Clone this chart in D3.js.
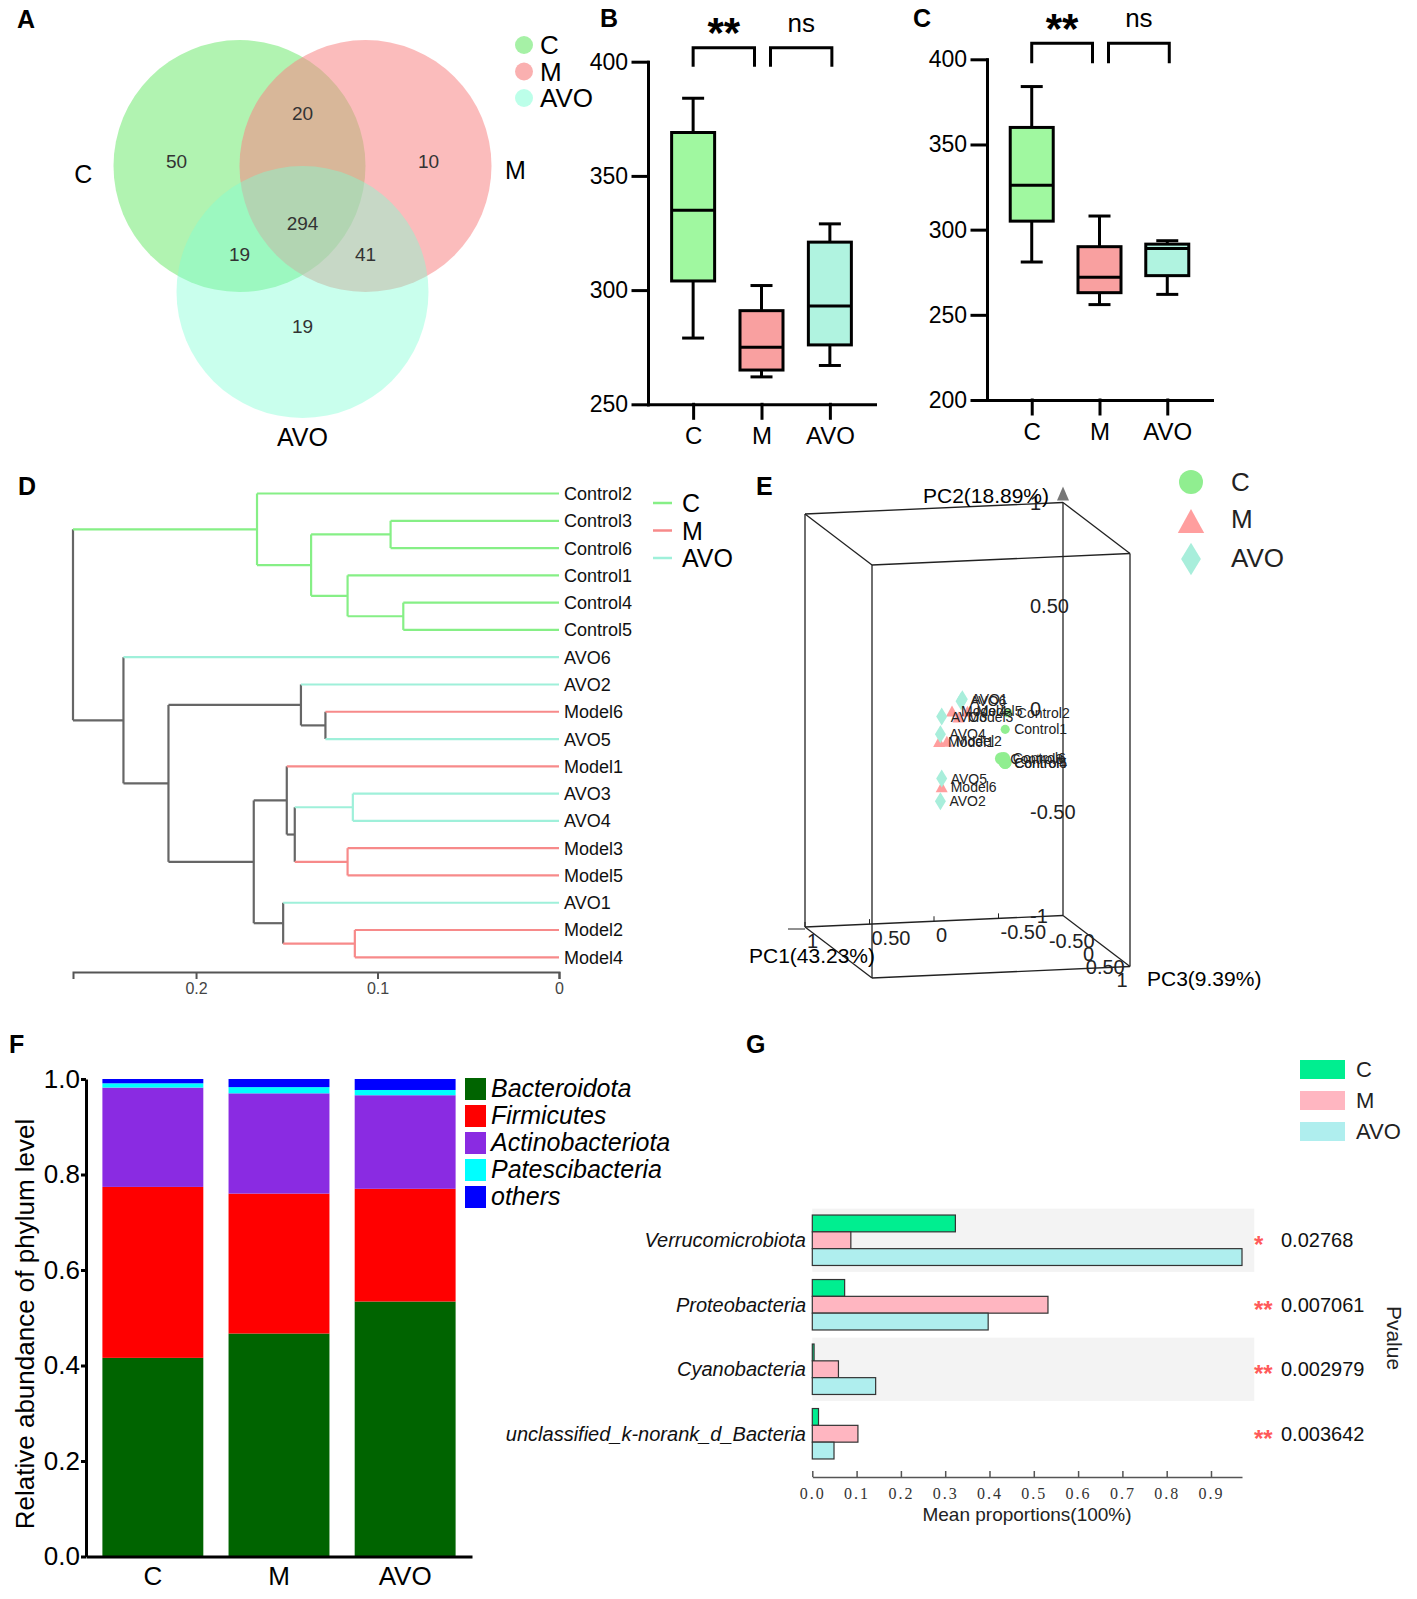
<!DOCTYPE html>
<html lang="en">
<head>
  <meta charset="UTF-8">
  <title>Microbiota figure</title>
  <style>
    body { margin: 0; background: #fff; }
    text { font-family: "Liberation Sans", Arial, sans-serif; }
  </style>
</head>
<body>
  <script src="https://d3js.org/d3.v7.min.js"></script>
  <script>
    // ---------- data ----------
    const groups = ["C", "M", "AVO"];

    // A: Venn region counts
    const vennRegions = [["C"], ["M"], ["AVO"], ["C", "M"], ["C", "AVO"], ["M", "AVO"], ["C", "M", "AVO"]];
    const vennCounts = [50, 10, 19, 20, 19, 41, 294];

    // B / C: [min, q1, median, q3, max] per group
    const boxB = [[279, 304, 335, 369, 384], [262, 265, 275, 291, 302], [267, 276, 293, 321, 329]];
    const boxC = [[281, 305, 326, 360, 384], [256, 263, 272, 290, 308], [262, 273, 289, 291.5, 293.5]];
    const ticksB = [250, 300, 350, 400];
    const ticksC = [200, 250, 300, 350, 400];
    const sigPairs = [[0, 1], [1, 2]];
    const sigLabels = ["**", "ns"];

    // D: clustering tree
    const leaves = ["Control2", "Control3", "Control6", "Control1", "Control4", "Control5", "AVO6", "AVO2", "Model6",
      "AVO5", "Model1", "AVO3", "AVO4", "Model3", "Model5", "AVO1", "Model2", "Model4"];
    // [left, right, height]; a number refers to an earlier merge
    const merges = [
      ["Control3", "Control6", 0.0928],
      ["Control4", "Control5", 0.0858],
      ["Control1", 1, 0.1165],
      [0, 2, 0.1366],
      ["Control2", 3, 0.1664],
      ["Model6", "AVO5", 0.1287],
      ["AVO2", 5, 0.1422],
      ["AVO3", "AVO4", 0.1136],
      ["Model3", "Model5", 0.1165],
      [7, 8, 0.1456],
      ["Model1", 9, 0.150],
      ["Model2", "Model4", 0.1125],
      ["AVO1", 11, 0.152],
      [10, 12, 0.1682],
      [6, 13, 0.2152],
      ["AVO6", 14, 0.240],
      [4, 15, 0.2678]
    ];
    const distTicks = [0.2, 0.1, 0];

    // E: PCoA coordinates
    const pcNames = ["Control1", "Control2", "Control3", "Control4", "Control5", "Control6",
      "Model1", "Model2", "Model3", "Model4", "Model5", "Model6",
      "AVO1", "AVO2", "AVO3", "AVO4", "AVO5", "AVO6"];
    const pc1 = [-0.50, -0.52, -0.21, -0.24, -0.24, -0.23, 0.22, 0.16, 0.07, 0.12, 0.00, 0.20, 0.04, 0.21, 0.20, 0.21, 0.20, 0.05];
    const pc2 = [-0.06, 0.02, -0.07, -0.09, -0.09, -0.07, 0.00, 0.00, 0.115, 0.145, 0.14, -0.22, 0.20, -0.29, 0.12, 0.035, -0.18, 0.19];
    const pc3 = [-0.8, -0.8, 0.2, 0.2, 0.2, 0.2, 0, 0, 0, 0, 0, 0, 0, 0, 0, 0, 0, 0];
    const pc1Ticks = [1, 0.5, 0, -0.5];
    const pc2Ticks = [1, 0.5, 0, -0.5, -1];
    const pc3Ticks = [-0.5, 0, 0.5, 1];

    // F: phylum composition
    const phyla = ["Bacteroidota", "Firmicutes", "Actinobacteriota", "Patescibacteria", "others"];
    const bacteroidota = [0.416, 0.467, 0.534];
    const firmicutes = [0.358, 0.293, 0.236];
    const actinobacteriota = [0.208, 0.210, 0.196];
    const patescibacteria = [0.009, 0.013, 0.011];
    const others = [0.009, 0.017, 0.023];
    const ticksF = [0, 0.2, 0.4, 0.6, 0.8, 1.0];

    // G: differential phyla
    const taxaG = ["Verrucomicrobiota", "Proteobacteria", "Cyanobacteria", "unclassified_k-norank_d_Bacteria"];
    const meanC = [0.323, 0.073, 0.004, 0.014];
    const meanM = [0.087, 0.532, 0.059, 0.103];
    const meanAVO = [0.970, 0.397, 0.143, 0.049];
    const pValues = ["0.02768", "0.007061", "0.002979", "0.003642"];
    const pStars = ["*", "**", "**", "**"];
    const ticksG = [0, 0.1, 0.2, 0.3, 0.4, 0.5, 0.6, 0.7, 0.8, 0.9];

    // ---------- page ----------
    const svg = d3.select("body").append("svg").attr("width", 1417).attr("height", 1599);

    function letter(t, x, y) {
      svg.append("text").attr("x", x).attr("y", y).attr("font-size", 25).attr("font-weight", "bold").text(t);
    }
    letter("A", 17, 28); letter("B", 600, 27); letter("C", 913, 27);
    letter("D", 18, 495); letter("E", 756, 495); letter("F", 9, 1053); letter("G", 746, 1053);

    // ---------- A: Venn ----------
    const venn = svg.append("g");
    const vr = 126, vcx = 302.5, vcy = 208;
    const vu = d3.scaleLinear().domain([0, 1]).range([0, vr]);
    const vennCenter = { C: [-0.5, -0.333], M: [0.5, -0.333], AVO: [0, 0.667] };
    const vennFill = { C: "#90ee90", M: "#f78585", AVO: "#7fffd4" };
    const vennAlpha = { C: 0.7, M: 0.55, AVO: 0.42 };
    groups.forEach(g => venn.append("circle")
      .attr("cx", vcx + vu(vennCenter[g][0])).attr("cy", vcy + vu(vennCenter[g][1])).attr("r", vr)
      .attr("fill", vennFill[g]).attr("fill-opacity", vennAlpha[g]));
    // text spot of every region (units of radius)
    const regionSpot = [[-1, -0.37], [1, -0.37], [0, 0.94], [0, -0.75], [-0.5, 0.37], [0.5, 0.37], [0, 0.12]];
    vennRegions.forEach((r, i) => venn.append("text")
      .attr("x", vcx + vu(regionSpot[i][0])).attr("y", vcy + vu(regionSpot[i][1])).attr("dy", "0.35em")
      .attr("text-anchor", "middle").attr("font-size", 19).attr("fill", "#333").text(vennCounts[i]));
    const setSpot = { C: [-1.74, -0.27], M: [1.69, -0.30], AVO: [0, 1.82] };
    groups.forEach(g => venn.append("text")
      .attr("x", vcx + vu(setSpot[g][0])).attr("y", vcy + vu(setSpot[g][1])).attr("dy", "0.36em")
      .attr("text-anchor", "middle").attr("font-size", 25).text(g));
    groups.forEach((g, i) => {
      venn.append("circle").attr("cx", 524).attr("cy", 45 + i * 26.5).attr("r", 9)
        .attr("fill", vennFill[g]).attr("fill-opacity", vennAlpha[g] + 0.1);
      venn.append("text").attr("x", 540).attr("y", 45 + i * 26.5 + 9).attr("font-size", 26).text(g);
    });

    // ---------- B / C: box plots ----------
    const boxFill = { C: "#a0f8a0", M: "#f9a0a0", AVO: "#b0f3e0" };
    function boxPanel(stats, ticks, o) {
      const x = d3.scalePoint().domain(groups).range([o.x0, o.x1]).padding(0.66);
      const y = d3.scaleLinear().domain([ticks[0], ticks[ticks.length - 1]]).range([o.yBot, o.yTop]);
      const g = svg.append("g");
      const ya = g.append("g").attr("transform", `translate(${o.x0},0)`)
        .call(d3.axisLeft(y).tickValues(ticks).tickSize(15).tickPadding(5).tickSizeOuter(0));
      const xa = g.append("g").attr("transform", `translate(0,${o.yBot})`)
        .call(d3.axisBottom(x).tickSize(14).tickPadding(9).tickSizeOuter(0));
      [ya, xa].forEach(a => {
        a.attr("font-size", 23);
        a.selectAll("path,line").attr("stroke", "#000").attr("stroke-width", 3).attr("stroke-linecap", "square");
        a.selectAll("text").attr("fill", "#000");
      });
      xa.attr("font-size", 24);
      const half = 21.5, cap = 11;
      stats.forEach((s, i) => {
        const cx = x(groups[i]);
        const line = (x1, y1, x2, y2) => g.append("line").attr("x1", x1).attr("y1", y1).attr("x2", x2).attr("y2", y2)
          .attr("stroke", "#000").attr("stroke-width", 3);
        line(cx, y(s[4]), cx, y(s[3]));
        line(cx, y(s[1]), cx, y(s[0]));
        line(cx - cap, y(s[4]), cx + cap, y(s[4]));
        line(cx - cap, y(s[0]), cx + cap, y(s[0]));
        g.append("rect").attr("x", cx - half).attr("y", y(s[3])).attr("width", half * 2)
          .attr("height", y(s[1]) - y(s[3])).attr("fill", boxFill[groups[i]])
          .attr("stroke", "#000").attr("stroke-width", 3);
        line(cx - half, y(s[2]), cx + half, y(s[2]));
      });
      sigPairs.forEach(([a, b], k) => {
        const x1 = x(groups[a]) + (k ? 9 : 0), x2 = x(groups[b]) + (k ? 2 : -7);
        g.append("path").attr("d", `M${x1},${o.brLeg}V${o.brTop}H${x2}V${o.brLeg}`)
          .attr("fill", "none").attr("stroke", "#000").attr("stroke-width", 3);
        const lab = sigLabels[k];
        g.append("text").attr("x", (x1 + x2) / 2).attr("y", lab === "ns" ? o.nsY : o.starY)
          .attr("text-anchor", "middle").attr("font-size", lab === "ns" ? 26 : 42)
          .attr("font-weight", lab === "ns" ? "normal" : "bold").text(lab);
      });
    }
    boxPanel(boxB, ticksB, { x0: 648, x1: 875, yBot: 404.3, yTop: 61.7, brTop: 47.7, brLeg: 66.7, starY: 47, nsY: 32 });
    boxPanel(boxC, ticksC, { x0: 987, x1: 1212, yBot: 400, yTop: 59.3, brTop: 43.3, brLeg: 63.3, starY: 43, nsY: 27 });

    // ---------- D: dendrogram ----------
    const groupOf = n => n.startsWith("Control") ? "C" : n.startsWith("Model") ? "M" : "AVO";
    const xD = d3.scaleLinear().domain([0, 0.2678]).range([559, 73]);
    const yD = d3.scalePoint().domain(leaves).range([493.5, 957.3]);
    const treeColor = { C: "#86ef86", M: "#f78a8a", AVO: "#9ff0da", mix: "#666" };
    const nodes = [];
    const nodeOf = v => typeof v === "number" ? nodes[v] : { x: xD(0), y: yD(v), grp: groupOf(v) };
    merges.forEach(([a, b, h]) => {
      const na = nodeOf(a), nb = nodeOf(b);
      nodes.push({ x: xD(h), y: (na.y + nb.y) / 2, grp: na.grp === nb.grp ? na.grp : "mix", kids: [na, nb] });
    });
    const dg = svg.append("g").attr("stroke-width", 2.2).attr("fill", "none");
    nodes.forEach(n => {
      dg.append("line").attr("x1", n.x).attr("x2", n.x).attr("y1", n.kids[0].y).attr("y2", n.kids[1].y)
        .attr("stroke", treeColor[n.grp]);
      n.kids.forEach(k => dg.append("line").attr("x1", n.x).attr("x2", k.x).attr("y1", k.y).attr("y2", k.y)
        .attr("stroke", treeColor[k.grp]));
    });
    leaves.forEach(l => svg.append("text").attr("x", 564).attr("y", yD(l)).attr("dy", "0.36em")
      .attr("font-size", 18).attr("fill", "#111").text(l));
    const dAxis = svg.append("g").attr("transform", "translate(0,972)")
      .call(d3.axisBottom(xD).tickValues(distTicks).tickSize(7).tickSizeOuter(7).tickPadding(4).tickFormat(d3.format("")));
    dAxis.attr("font-size", 16);
    dAxis.selectAll("path,line").attr("stroke", "#555").attr("stroke-width", 2);
    dAxis.selectAll("text").attr("fill", "#444");
    groups.forEach((g, i) => {
      const yy = 503 + i * 27.5;
      svg.append("line").attr("x1", 653).attr("x2", 672).attr("y1", yy).attr("y2", yy)
        .attr("stroke", treeColor[g]).attr("stroke-width", 2.5);
      svg.append("text").attr("x", 682).attr("y", yy + 9).attr("font-size", 25).text(g);
    });

    // ---------- E: 3D PCoA ----------
    const proj = (a, b, c) => [967.5 - 129 * a + 33.5 * c, 740.25 + 5.75 * a - 206.5 * b + 25.5 * c];
    const eg = svg.append("g");
    const corners = [];
    [1, -1].forEach(a => [-1, 1].forEach(b => [-1, 1].forEach(c => corners.push([a, b, c]))));
    corners.forEach((p, i) => corners.forEach((q, j) => {
      if (j <= i) return;
      const diff = p.filter((v, k) => v !== q[k]).length;
      if (diff !== 1) return;
      const [x1, y1] = proj(...p), [x2, y2] = proj(...q);
      eg.append("line").attr("x1", x1).attr("y1", y1).attr("x2", x2).attr("y2", y2)
        .attr("stroke", "#222").attr("stroke-width", 1.3);
    }));
    const fmtPc = v => (v === 0 || Math.abs(v) === 1) ? String(v) : v.toFixed(2);
    pc1Ticks.forEach(t => {
      const [x, y] = proj(t, -1, -1);
      eg.append("line").attr("x1", x).attr("x2", x).attr("y1", y).attr("y2", y - 5).attr("stroke", "#222");
      eg.append("text").attr("x", x + 2).attr("y", y + 21).attr("font-size", 20).attr("fill", "#222").text(fmtPc(t));
    });
    eg.append("line").attr("x1", 788).attr("x2", 805).attr("y1", proj(1, -1, -1)[1] + 2).attr("y2", proj(1, -1, -1)[1] + 2)
      .attr("stroke", "#222");
    pc2Ticks.forEach(t => {
      const [x, y] = proj(-1, t, -1);
      eg.append("text").attr("x", x - 33).attr("y", y + 7).attr("font-size", 20).attr("fill", "#222").text(fmtPc(t));
    });
    pc3Ticks.forEach(t => {
      const [x, y] = proj(-1, -1, t);
      eg.append("text").attr("x", x - 8).attr("y", y + 20).attr("text-anchor", "middle")
        .attr("font-size", 20).attr("fill", "#222").text(fmtPc(t));
    });
    const [ax2, ay2] = proj(-1, 1, -1);
    eg.append("path").attr("d", `M${ax2},${ay2 - 16}L${ax2 + 6},${ay2 - 2}L${ax2 - 6},${ay2 - 2}Z`).attr("fill", "#777");
    eg.append("text").attr("x", 812).attr("y", 963).attr("text-anchor", "middle").attr("font-size", 21).text("PC1(43.23%)");
    eg.append("text").attr("x", 986).attr("y", 503).attr("text-anchor", "middle").attr("font-size", 21).text("PC2(18.89%)");
    eg.append("text").attr("x", 1147).attr("y", 986).attr("font-size", 21).text("PC3(9.39%)");

    const pcColor = { C: "#90ee90", M: "#ff9e9e", AVO: "#a8eedb" };
    function marker(sel, grp, x, y, k) {
      if (grp === "C") {
        sel.append("circle").attr("cx", x).attr("cy", y).attr("r", 6 * k).attr("fill", pcColor.C);
      } else if (grp === "M") {
        const w = 12 * k, h = 11 * k;
        sel.append("path").attr("d", `M${x},${y - h / 2}L${x + w / 2},${y + h / 2}L${x - w / 2},${y + h / 2}Z`).attr("fill", pcColor.M);
      } else {
        const w = 11 * k, h = 18 * k;
        sel.append("path").attr("d", `M${x},${y - h / 2}L${x + w / 2},${y}L${x},${y + h / 2}L${x - w / 2},${y}Z`).attr("fill", pcColor.AVO);
      }
    }
    const pts = pcNames.map((n, i) => {
      const [x, y] = proj(pc1[i], pc2[i], pc3[i]);
      return { n, x, y, k: 1 + 0.3 * pc3[i], grp: groupOf(n) };
    });
    pts.forEach(p => marker(eg, p.grp, p.x, p.y, p.k));
    pts.forEach(p => eg.append("text").attr("x", p.x + 9).attr("y", p.y + 5).attr("font-size", 14)
      .attr("fill", "#222").text(p.n));
    // legend
    marker(eg, "C", 1191, 482, 2);
    marker(eg, "M", 1191, 521, 2.2);
    marker(eg, "AVO", 1191, 559, 1.8);
    groups.forEach((g, i) => eg.append("text").attr("x", 1231).attr("y", [482, 519, 558][i] + 9)
      .attr("font-size", 26).attr("fill", "#222").text(g));

    // ---------- F: stacked bars ----------
    const phylaColor = ["#006400", "#ff0000", "#8a2be2", "#00ffff", "#0000ff"];
    const rowsF = groups.map((g, i) => ({
      group: g, Bacteroidota: bacteroidota[i], Firmicutes: firmicutes[i], Actinobacteriota: actinobacteriota[i],
      Patescibacteria: patescibacteria[i], others: others[i]
    }));
    const stackF = d3.stack().keys(phyla)(rowsF);
    const xF = d3.scaleBand().domain(groups).range([86, 472]).paddingInner(0.2).paddingOuter(0.13);
    const yF = d3.scaleLinear().domain([0, 1]).range([1556.5, 1079]);
    const fg = svg.append("g");
    stackF.forEach((s, k) => fg.selectAll(null).data(s).enter().append("rect")
      .attr("x", d => xF(d.data.group)).attr("width", xF.bandwidth())
      .attr("y", d => yF(d[1])).attr("height", d => yF(d[0]) - yF(d[1])).attr("fill", phylaColor[k]));
    const fy = fg.append("g").attr("transform", "translate(86,0)")
      .call(d3.axisLeft(yF).tickValues(ticksF).tickFormat(d3.format(".1f")).tickSize(5).tickPadding(1).tickSizeOuter(0));
    const fx = fg.append("g").attr("transform", "translate(0,1556.5)")
      .call(d3.axisBottom(xF).tickSize(0).tickPadding(10).tickSizeOuter(0));
    [fy, fx].forEach(a => {
      a.attr("font-size", 26);
      a.selectAll("path,line").attr("stroke", "#000").attr("stroke-width", 3);
      a.selectAll("text").attr("fill", "#000");
    });
    fg.append("text").attr("transform", "translate(34,1324) rotate(-90)").attr("text-anchor", "middle")
      .attr("font-size", 26).text("Relative abundance of phylum level");
    phyla.forEach((p, i) => {
      fg.append("rect").attr("x", 465).attr("y", 1078 + i * 27).attr("width", 21).attr("height", 22).attr("fill", phylaColor[i]);
      fg.append("text").attr("x", 491).attr("y", 1078 + i * 27 + 19).attr("font-size", 25)
        .attr("font-style", "italic").text(p);
    });

    // ---------- G: grouped horizontal bars ----------
    const gColor = { C: "#00ee90", M: "#ffb6c1", AVO: "#afeeee" };
    const meansG = { C: meanC, M: meanM, AVO: meanAVO };
    const xG = d3.scaleLinear().domain([0, 0.97]).range([812.3, 1242]);
    const yG = d3.scaleBand().domain(taxaG).range([1208, 1466]).paddingInner(0.02).paddingOuter(0.01);
    const ySub = d3.scaleBand().domain(groups).range([0, yG.bandwidth()]).paddingInner(0).paddingOuter(0.38);
    const gg = svg.append("g");
    taxaG.forEach((t, i) => {
      if (i % 2 === 0) gg.append("rect").attr("x", xG(0)).attr("y", yG(t)).attr("width", xG(1) - xG(0) - 1)
        .attr("height", yG.bandwidth()).attr("fill", "#f3f3f3");
    });
    taxaG.forEach((t, i) => {
      groups.forEach(g => gg.append("rect").attr("x", xG(0)).attr("y", yG(t) + ySub(g))
        .attr("width", xG(meansG[g][i]) - xG(0)).attr("height", ySub.bandwidth())
        .attr("fill", gColor[g]).attr("stroke", "#333").attr("stroke-width", 1.2));
      const cy = yG(t) + yG.bandwidth() / 2;
      gg.append("text").attr("x", 806).attr("y", cy).attr("dy", "0.36em").attr("text-anchor", "end")
        .attr("font-size", 20).attr("font-style", "italic").attr("fill", "#111").text(t);
      gg.append("text").attr("x", 1254).attr("y", cy + 13).attr("font-size", 24).attr("font-weight", "bold")
        .attr("fill", "#ff5a5a").text(pStars[i]);
      gg.append("text").attr("x", 1281).attr("y", cy + 7).attr("font-size", 20).attr("fill", "#111").text(pValues[i]);
    });
    const gx = gg.append("g").attr("transform", "translate(0,1477)")
      .call(d3.axisBottom(xG).tickValues(ticksG).tickFormat(d => d.toFixed(1)).tickSize(-6).tickPadding(11).tickSizeOuter(0));
    gx.selectAll("path,line").attr("stroke", "#555").attr("stroke-width", 1.5);
    gx.selectAll("text").attr("font-size", 16).attr("fill", "#333")
      .style("font-family", "'Liberation Serif', serif").attr("letter-spacing", 2);
    gg.append("text").attr("x", 1027).attr("y", 1521).attr("text-anchor", "middle").attr("font-size", 19)
      .attr("fill", "#222").text("Mean proportions(100%)");
    gg.append("text").attr("transform", "translate(1387,1338) rotate(90)").attr("text-anchor", "middle")
      .attr("font-size", 21).attr("fill", "#222").text("Pvalue");
    groups.forEach((g, i) => {
      gg.append("rect").attr("x", 1300).attr("y", 1060 + i * 31).attr("width", 45).attr("height", 19).attr("fill", gColor[g]);
      gg.append("text").attr("x", 1356).attr("y", 1060 + i * 31 + 17).attr("font-size", 22).attr("fill", "#222").text(g);
    });
  </script>
</body>
</html>
